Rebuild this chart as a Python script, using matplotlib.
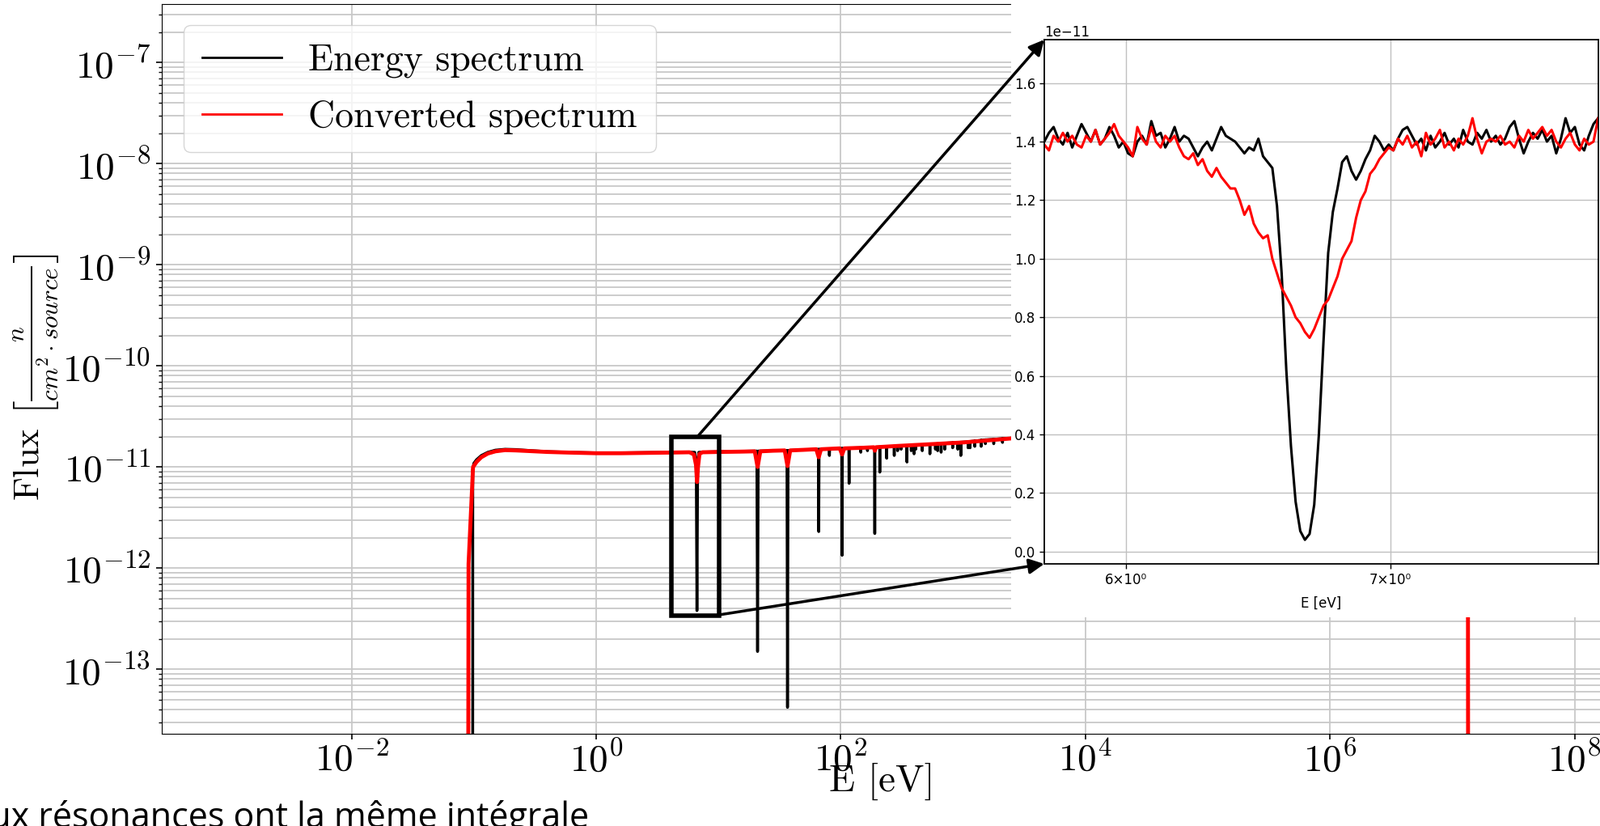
import numpy as np
import matplotlib
matplotlib.use('Agg')
import matplotlib.pyplot as plt
from matplotlib.patches import Rectangle, FancyArrowPatch
from matplotlib.ticker import FixedLocator, NullLocator, FuncFormatter, ScalarFormatter

plt.rcParams['font.family'] = 'serif'
plt.rcParams['font.serif'] = ['cmr10']
plt.rcParams['mathtext.fontset'] = 'cm'
plt.rcParams['axes.formatter.use_mathtext'] = True

# --- main spectrum (E in eV, flux in 1e-11 n/cm2/source) ---
energy_E = [0.0978, 0.098, 0.100, 0.105, 0.115, 0.13, 0.15, 0.18, 0.22, 0.28, 0.4, 0.6, 1.0, 1.6, 2.5, 4.0,
            6.4, 6.58, 6.67, 6.76, 6.9, 10, 15, 20.6, 20.87, 21.15, 28, 36.3, 36.68, 37.1, 50,
            65.6, 66.03, 66.5, 80.3, 80.75, 81.2, 102.0, 102.56, 103.1, 116.4, 116.9, 117.4,
            145.2, 145.7, 146.2, 165.0, 165.3, 165.7, 189.1, 189.7, 190.3, 208.0, 208.5, 209.0,
            236.8, 237.4, 238.0, 273.0, 273.7, 274.4, 291.0, 291.5, 292.0, 311.0, 311.5, 312.0,
            347.0, 347.8, 348.6, 376.5, 377.0, 377.5, 397.0, 397.6, 398.2, 410.0, 410.5, 411.0,
            463.0, 463.6, 464.2, 535.0, 535.6, 536.2, 594.0, 594.5, 595.0, 619.0, 619.5, 620.0,
            661.0, 661.5, 662.0, 708.0, 708.5, 709.0, 821.0, 821.6, 822.2, 905.0, 905.6, 906.2,
            958.0, 958.6, 959.2, 1098, 1099, 1100, 1140, 1141, 1142, 1245, 1246, 1247,
            1405, 1406, 1407, 1522, 1523, 1524, 1780, 1781, 1782, 2100, 2101, 2102,
            2500, 1e4, 1e5, 1e6, 1e7, 1.35e7, 1.351e7]
energy_F = [1e-5, 0.95, 1.09, 1.18, 1.30, 1.40, 1.47, 1.50, 1.49, 1.46, 1.42, 1.40, 1.38, 1.38, 1.39, 1.40,
            1.40, 1.10, 0.038, 1.10, 1.40, 1.42, 1.43, 1.44, 0.015, 1.44, 1.45, 1.46, 0.0042, 1.46, 1.48,
            1.50, 0.23, 1.50, 1.51, 1.30, 1.51, 1.53, 0.134, 1.53, 1.54, 0.69, 1.54,
            1.55, 1.40, 1.55, 1.56, 1.45, 1.56, 1.57, 0.22, 1.57, 1.58, 0.89, 1.58,
            1.59, 1.22, 1.59, 1.60, 1.30, 1.60, 1.61, 1.45, 1.61, 1.62, 1.50, 1.62,
            1.63, 1.12, 1.63, 1.64, 1.45, 1.64, 1.65, 1.35, 1.65, 1.65, 1.50, 1.65,
            1.66, 1.45, 1.66, 1.68, 1.35, 1.68, 1.69, 1.50, 1.69, 1.70, 1.45, 1.70,
            1.71, 1.40, 1.71, 1.72, 1.50, 1.72, 1.74, 1.55, 1.74, 1.75, 1.50, 1.75,
            1.76, 1.30, 1.76, 1.78, 1.55, 1.78, 1.79, 1.55, 1.79, 1.81, 1.60, 1.81,
            1.84, 1.60, 1.84, 1.86, 1.70, 1.86, 1.88, 1.70, 1.88, 1.91, 1.75, 1.91,
            1.93, 2.10, 2.30, 2.50, 2.40, 2.40, 1e-5]

conv_E = [0.0895, 0.0905, 0.0985, 0.105, 0.115, 0.13, 0.15, 0.18, 0.22, 0.28, 0.4, 0.6, 1.0, 1.6, 2.5, 4.0,
          5.8, 6.3, 6.55, 6.68, 6.8, 7.0, 7.4, 10, 15, 19.8, 20.9, 22.0, 28, 34.8, 36.7, 38.6, 50,
          63, 66, 69, 98, 102.5, 107, 150, 186, 190, 194, 300, 1000, 2500, 1e4, 1e5, 1e6, 1e7,
          1.34e7, 1.35e7]
conv_F = [1e-5, 0.11, 1.00, 1.12, 1.25, 1.36, 1.43, 1.47, 1.46, 1.44, 1.41, 1.39, 1.37, 1.37, 1.38, 1.39,
          1.40, 1.33, 1.05, 0.71, 1.00, 1.35, 1.40, 1.41, 1.42, 1.43, 1.00, 1.43, 1.45, 1.46, 1.02, 1.46, 1.48,
          1.50, 1.25, 1.50, 1.53, 1.33, 1.53, 1.55, 1.57, 1.45, 1.57, 1.62, 1.75, 1.92, 2.10, 2.30, 2.50, 2.40,
          2.40, 1e-5]

# --- zoom on the 6.67 eV resonance (flux in 1e-11) ---
inset_energy = [1.40, 1.43, 1.45, 1.41, 1.39, 1.43, 1.38, 1.42, 1.46, 1.43, 1.40, 1.44, 1.39, 1.41, 1.45,
                1.42, 1.38, 1.40, 1.36, 1.35, 1.40, 1.42, 1.39, 1.47, 1.42, 1.43, 1.38, 1.41, 1.45, 1.40,
                1.42, 1.41, 1.38, 1.35, 1.38, 1.40, 1.37, 1.41, 1.45, 1.42, 1.41, 1.40, 1.38, 1.36, 1.38,
                1.37, 1.41, 1.35, 1.33, 1.31, 1.18, 0.95, 0.62, 0.36, 0.17, 0.07, 0.04, 0.06, 0.16, 0.40,
                0.72, 1.02, 1.16, 1.24, 1.33, 1.35, 1.30, 1.27, 1.30, 1.34, 1.37, 1.42, 1.40, 1.37, 1.39,
                1.37, 1.41, 1.44, 1.45, 1.42, 1.39, 1.41, 1.37, 1.42, 1.38, 1.40, 1.43, 1.39, 1.41, 1.38,
                1.44, 1.40, 1.39, 1.43, 1.41, 1.44, 1.40, 1.42, 1.39, 1.41, 1.45, 1.47, 1.41, 1.36, 1.40,
                1.43, 1.41, 1.44, 1.40, 1.42, 1.36, 1.41, 1.48, 1.43, 1.45, 1.39, 1.37, 1.42, 1.46, 1.48]
inset_conv = [1.39, 1.37, 1.42, 1.40, 1.43, 1.40, 1.42, 1.39, 1.38, 1.42, 1.40, 1.44, 1.39, 1.41, 1.43,
              1.46, 1.42, 1.40, 1.38, 1.35, 1.45, 1.41, 1.39, 1.45, 1.40, 1.38, 1.42, 1.40, 1.42, 1.38,
              1.35, 1.34, 1.36, 1.32, 1.34, 1.30, 1.28, 1.31, 1.28, 1.26, 1.24, 1.24, 1.20, 1.15, 1.18,
              1.12, 1.09, 1.07, 1.08, 1.00, 0.95, 0.90, 0.87, 0.84, 0.80, 0.78, 0.75, 0.73, 0.76, 0.80,
              0.84, 0.86, 0.90, 0.94, 1.00, 1.03, 1.06, 1.14, 1.20, 1.23, 1.29, 1.31, 1.34, 1.36, 1.38,
              1.37, 1.41, 1.39, 1.42, 1.38, 1.40, 1.35, 1.43, 1.39, 1.41, 1.44, 1.38, 1.40, 1.37, 1.41,
              1.39, 1.42, 1.48, 1.41, 1.36, 1.40, 1.41, 1.40, 1.42, 1.39, 1.40, 1.38, 1.42, 1.40, 1.44,
              1.41, 1.43, 1.45, 1.42, 1.44, 1.40, 1.38, 1.41, 1.43, 1.39, 1.37, 1.41, 1.39, 1.40, 1.48]
inset_E = np.geomspace(5.72, 7.90, len(inset_energy))

W, H = 1978, 1021
def fx(px):
    return px / W
def fy(py):
    return 1 - py / H

fig = plt.figure(figsize=(W / 100, H / 100), dpi=100)

# main axes (right edge runs past the picture)
dec = 151.2
ax = fig.add_axes([fx(200), fy(907), (1992 - 200) / W, (907 - 5) / H])
ax.plot(energy_E, np.array(energy_F) * 1e-11, color='black', lw=2.5, label='Energy spectrum')
ax.plot(conv_E, np.array(conv_F) * 1e-11, color='red', lw=3.5, label='Converted spectrum')
ax.set_xscale('log')
ax.set_yscale('log')
ax.set_xlim(10 ** ((200 - 737) / dec), 10 ** ((1992 - 737) / dec))
ax.set_ylim(10 ** (-7 - (907 - 77.3) / 125), 10 ** (-7 + (77.3 - 5) / 125))
ax.xaxis.set_major_locator(FixedLocator([1e-2, 1e0, 1e2, 1e4, 1e6, 1e8]))
ax.xaxis.set_minor_locator(NullLocator())
ax.grid(True, which='major', color='#c8c8c8', lw=1.3)
ax.grid(True, which='minor', axis='y', color='#c8c8c8', lw=1.3)
ax.tick_params(which='major', labelsize=34, length=5, width=1.2)
ax.tick_params(axis='x', which='major', pad=1.5)
ax.tick_params(axis='y', which='major', pad=5)
ax.tick_params(which='minor', length=3, width=1)
ax.set_axisbelow(True)

leg = ax.legend(loc='upper left', bbox_to_anchor=(fx(227), fy(31)), bbox_transform=fig.transFigure,
                borderaxespad=0, fontsize=33, handlelength=2.15, handletextpad=0.72, labelspacing=0.6,
                borderpad=0.5)
for ln in leg.get_lines():
    ln.set_linewidth(2)

fig.text(fx(1090), fy(966), 'E [eV]', fontsize=34, ha='center', va='center')
fig.text(fx(45), fy(466), r'Flux $\left[\frac{n}{cm^2\cdot source}\right]$', fontsize=32,
         rotation=90, ha='center', va='center')

# zoom box
ax.add_patch(Rectangle((4.12, 3.4e-13), 10.1 - 4.12, 2.0e-11 - 3.4e-13, fill=False,
                       lw=4, ec='black', zorder=5))

# white patch behind the inset
fig.add_artist(Rectangle((fx(1250), fy(763)), 1 - fx(1250), 763 / H, transform=fig.transFigure,
                         fc='white', ec='none', zorder=1))

# inset
ax_in = fig.add_axes([fx(1291), fy(697.3), (1975.7 - 1291) / W, (697.3 - 49.3) / H], zorder=2)
ax_in.plot(inset_E, np.array(inset_energy) * 1e-11, color='black', lw=2.2)
ax_in.plot(inset_E, np.array(inset_conv) * 1e-11, color='red', lw=2.2)
ax_in.set_xscale('log')
ax_in.set_xlim(5.72, 7.90)
ax_in.set_ylim(-0.043e-11, 1.7475e-11)
ax_in.xaxis.set_major_locator(NullLocator())
ax_in.xaxis.set_minor_locator(FixedLocator([6, 7]))
ax_in.xaxis.set_minor_formatter(FuncFormatter(lambda v, p: '%d×10⁰' % round(v)))
ax_in.yaxis.set_major_formatter(ScalarFormatter(useMathText=False))
ax_in.tick_params(which='both', labelsize=12, labelfontfamily='DejaVu Sans', length=4, width=1)
ax_in.yaxis.get_offset_text().set_fontfamily('DejaVu Sans')
ax_in.yaxis.get_offset_text().set_fontsize(12)
ax_in.grid(True, which='both', color='#c0c0c0', lw=1)
ax_in.set_xlabel('E [eV]', fontfamily='DejaVu Sans', fontsize=12, labelpad=8)
for s in ax_in.spines.values():
    s.set_linewidth(1.3)

# arrows from the box to the inset
for a, b in [((862, 540), (1291, 49)), ((889, 760), (1291, 697))]:
    fig.add_artist(FancyArrowPatch(posA=(fx(a[0]), fy(a[1])), posB=(fx(b[0]), fy(b[1])),
                                   transform=fig.transFigure, arrowstyle='-|>', mutation_scale=28,
                                   lw=2.5, color='black', shrinkA=0, shrinkB=0, zorder=3))

fig.text(fx(728), fy(1023), 'Deux résonances ont la même intégrale', ha='right', va='baseline',
         fontsize=31, family='Open Sans')

fig.savefig('out.png', dpi=100)
